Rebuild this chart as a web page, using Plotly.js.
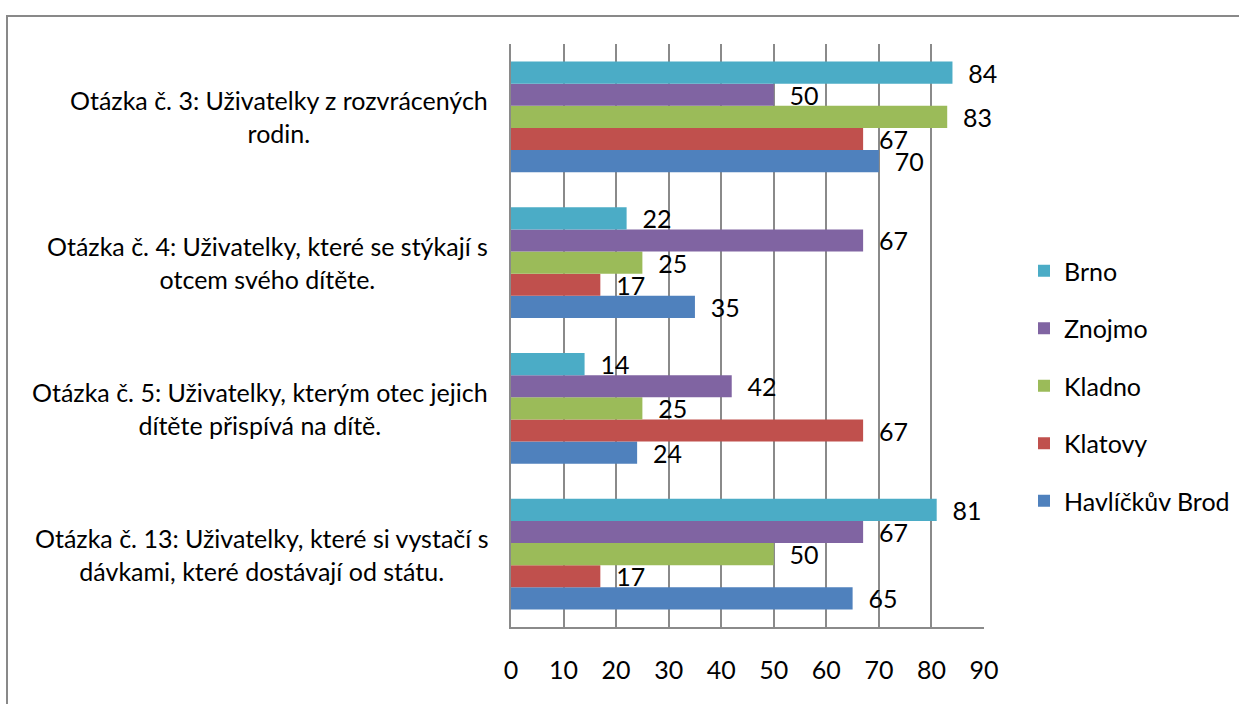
<!DOCTYPE html>
<html>
<head>
<meta charset="utf-8">
<script src="https://cdn.plot.ly/plotly-3.0.1.min.js"></script>
<style>html,body{margin:0;padding:0;background:#fff;}#chart{width:1239px;height:704px;}</style>
</head>
<body>
<div id="chart"></div>
<script>
const categories = [
  "Otázka č. 3: Uživatelky z rozvrácených<br>rodin.",
  "Otázka č. 4: Uživatelky, které se stýkají s<br>otcem svého dítěte.",
  "Otázka č. 5: Uživatelky, kterým otec jejich<br>dítěte přispívá na dítě.",
  "Otázka č. 13: Uživatelky, které si vystačí s<br>dávkami, které dostávají od státu."
];
const seriesNames = ["Havlíčkův Brod", "Klatovy", "Kladno", "Znojmo", "Brno"];
const havlickuvBrod = [70, 35, 24, 65];
const klatovy = [67, 17, 67, 17];
const kladno = [83, 25, 25, 50];
const znojmo = [50, 67, 42, 67];
const brno = [84, 22, 14, 81];
const xTicks = [0, 10, 20, 30, 40, 50, 60, 70, 80, 90];

const seriesValues = [havlickuvBrod, klatovy, kladno, znojmo, brno];
const colors = ["#4F81BD", "#C0504D", "#9BBB59", "#8064A2", "#4BACC6"];
const FONT = "Lato, 'Open Sans', sans-serif";
const FS = 25;

const traces = seriesNames.map((name, i) => ({
  type: "bar",
  orientation: "h",
  name: name,
  legendgroup: name,
  legendrank: seriesNames.length - i,
  x: seriesValues[i],
  y: categories,
  marker: {color: colors[i], line: {width: 0}},
  text: seriesValues[i].map(String),
  texttemplate: "\u00a0\u00a0%{text}",
  textposition: "outside",
  constraintext: "none",
  cliponaxis: false,
  textfont: {family: FONT, size: FS, color: "#000"},
  hoverinfo: "x+name"
}));

const annotations = categories.map(c => ({
  text: c,
  xref: "paper", yref: "y",
  x: -0.045, y: c,
  xanchor: "right", yanchor: "middle",
  align: "center",
  showarrow: false,
  font: {family: FONT, size: FS, color: "#000"}
}));

const layout = {
  width: 1239, height: 704,
  margin: {l: 511, r: 255, t: 44, b: 77},
  paper_bgcolor: "#fff", plot_bgcolor: "#fff",
  barmode: "group", bargap: 0.24, bargroupgap: 0,
  font: {family: FONT, size: FS, color: "#000"},
  xaxis: {
    range: [0, 90], tickvals: xTicks, ticktext: xTicks.map(String),
    showgrid: true, gridcolor: "#8A8A8A", gridwidth: 2,
    showline: true, linecolor: "#8A8A8A", linewidth: 2,
    zeroline: false, ticks: "", ticklabelstandoff: 20,
    tickfont: {family: FONT, size: FS, color: "#000"}, fixedrange: true
  },
  yaxis: {
    type: "category", categoryorder: "array", categoryarray: categories.slice().reverse(),
    showticklabels: false, showgrid: false,
    showline: true, linecolor: "#8A8A8A", linewidth: 2,
    zeroline: false, ticks: "", fixedrange: true
  },
  legend: {
    xref: "container", yref: "container",
    x: 1024 / 1239, y: 1 - 248 / 704, xanchor: "left", yanchor: "top",
    traceorder: "grouped", tracegroupgap: 22,
    font: {family: FONT, size: FS, color: "#000"},
    bgcolor: "rgba(0,0,0,0)"
  },
  annotations: annotations,
  shapes: [{
    type: "rect", xref: "paper", yref: "paper",
    x0: (7 - 511) / 473, x1: (1250 - 511) / 473,
    y0: (627 - 715) / 583, y1: (627 - 16) / 583,
    line: {color: "#898989", width: 2}, fillcolor: "rgba(0,0,0,0)", layer: "below"
  }],
  showlegend: true
};

Plotly.newPlot("chart", traces, layout, {displayModeBar: false, staticPlot: true});
</script>
</body>
</html>
